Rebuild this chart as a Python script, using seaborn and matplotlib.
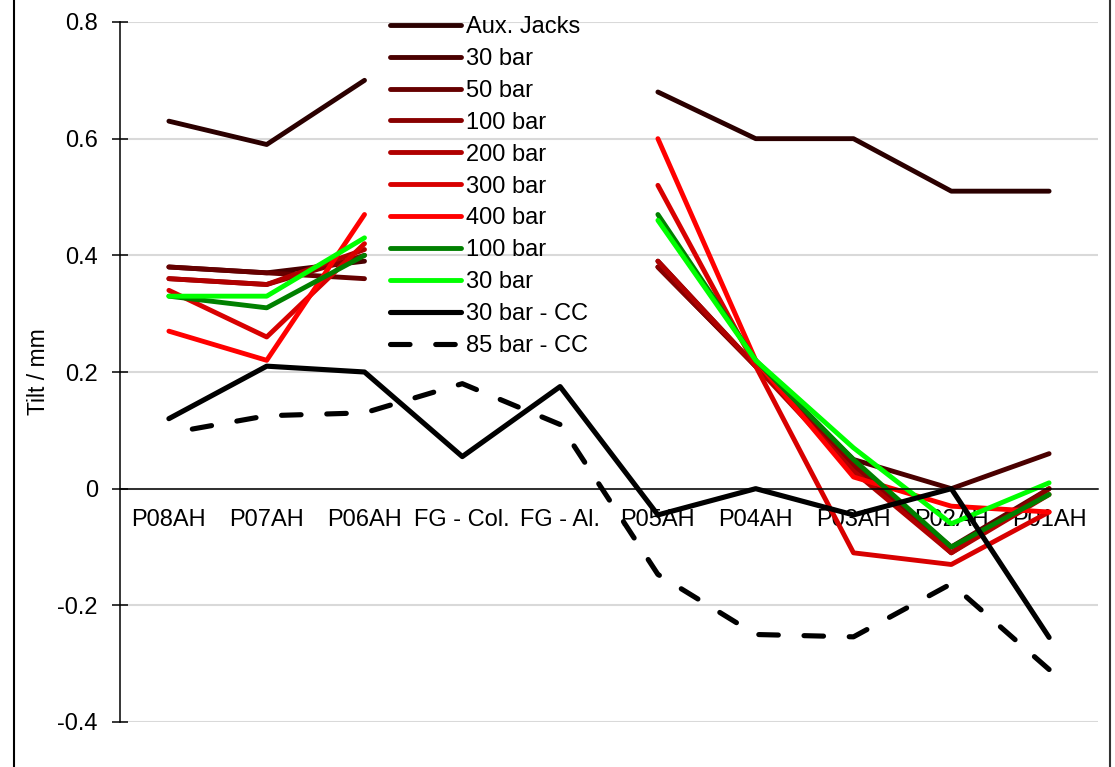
import numpy as np
import pandas as pd
import matplotlib
matplotlib.use("Agg")
import matplotlib.pyplot as plt
from matplotlib.lines import Line2D
from matplotlib.ticker import FixedLocator, MultipleLocator
import seaborn as sns

sns.set_style("white")
plt.rcParams["font.family"] = ["Liberation Sans", "DejaVu Sans"]
plt.rcParams.update({"text.color": "black", "axes.labelcolor": "black",
                     "xtick.color": "black", "ytick.color": "black"})

nan = np.nan

# Measuring stations along the structure (x axis categories)
stations = ["P08AH", "P07AH", "P06AH", "FG - Col.", "FG - Al.",
            "P05AH", "P04AH", "P03AH", "P02AH", "P01AH"]

# Tilt readings in mm per load case
aux_jacks = [0.63, 0.59, 0.70, nan, nan, 0.68, 0.60, 0.60, 0.51, 0.51]
bar_30 = [0.38, 0.37, 0.39, nan, nan, 0.39, 0.21, 0.05, 0.00, 0.06]
bar_50 = [0.38, 0.37, 0.36, nan, nan, 0.38, 0.21, 0.04, -0.10, 0.00]
bar_100 = [0.36, 0.35, 0.40, nan, nan, 0.38, 0.21, 0.04, -0.11, 0.00]
bar_200 = [0.36, 0.35, 0.41, nan, nan, 0.39, 0.21, 0.03, -0.11, -0.01]
bar_300 = [0.34, 0.26, 0.42, nan, nan, 0.52, 0.21, -0.11, -0.13, -0.04]
bar_400 = [0.27, 0.22, 0.47, nan, nan, 0.60, 0.22, 0.02, -0.03, -0.04]
unload_100 = [0.33, 0.31, 0.40, nan, nan, 0.47, 0.22, 0.05, -0.10, -0.01]
unload_30 = [0.33, 0.33, 0.43, nan, nan, 0.46, 0.22, 0.07, -0.06, 0.01]
cc_30 = [0.12, 0.21, 0.20, 0.055, 0.175, -0.045, 0.00, -0.045, 0.00, -0.255]
cc_85 = [0.095, 0.125, 0.13, 0.18, 0.11, -0.147, -0.25, -0.254, -0.163, -0.31]

labels = ["Aux. Jacks", "30 bar", "50 bar", "100 bar", "200 bar", "300 bar",
          "400 bar", "100 bar", "30 bar", "30 bar - CC", "85 bar - CC"]
values = [aux_jacks, bar_30, bar_50, bar_100, bar_200, bar_300,
          bar_400, unload_100, unload_30, cc_30, cc_85]
colors = ["#2b0000", "#4a0000", "#660000", "#880000", "#b00000", "#d80000",
          "#ff0000", "#008000", "#00ff00", "#000000", "#000000"]
dashed = [False] * 10 + [True]

fig = plt.figure(figsize=(11.15, 7.67), dpi=100)
ax = fig.add_axes([120 / 1115, 1 - 722 / 767, 978 / 1115, 700 / 767])

dash_pat = (0, (3.8, 5.0))
handles = []
for lab, vals, col, dsh in zip(labels, values, colors, dashed):
    df = pd.DataFrame({"pos": np.arange(len(stations)), "tilt": vals})
    # split into contiguous runs so missing stations leave a gap
    run_id = df["tilt"].isna().cumsum()
    lw = 3.7 if col == "#000000" else 3.5
    style = dict(color=col, lw=lw, solid_capstyle="round",
                 solid_joinstyle="round", dash_capstyle="round")
    if dsh:
        style["linestyle"] = dash_pat
    ok = df["tilt"].notna()
    for _, seg in df[ok].groupby(run_id[ok]):
        if dsh:
            # trace the dashed path from its right end
            seg = seg.iloc[::-1]
        sns.lineplot(data=seg, x="pos", y="tilt", ax=ax, legend=False,
                     estimator=None, sort=False, **style)
    handles.append(Line2D([], [], label=lab, **style))

ax.set_xlim(-0.5, len(stations) - 0.5)
ax.set_ylim(-0.4, 0.8)
ax.yaxis.set_major_locator(MultipleLocator(0.2))
ax.set_yticklabels([f"{t:g}" if abs(t) > 1e-9 else "0"
                    for t in ax.get_yticks()])

ax.set_xticks(np.arange(len(stations)))
ax.set_xticklabels(stations)
ax.xaxis.set_minor_locator(FixedLocator(np.arange(len(stations) + 1) - 0.5))
ax.tick_params(axis="x", which="major", length=0, pad=15, labelsize=17)
ax.tick_params(axis="x", which="minor", direction="inout", length=12,
               width=1.1, color="black")
ax.tick_params(axis="y", which="major", direction="inout", length=12,
               width=1.1, color="black", labelsize=17, pad=10, left=True)

ax.set_ylabel("Tilt / mm", fontsize=16.5, labelpad=5)
ax.set_xlabel("")

ax.yaxis.grid(True, color="#d9d9d9", lw=1.5)
ax.set_axisbelow(True)
for side in ["top", "right"]:
    ax.spines[side].set_visible(False)
ax.spines["bottom"].set_position(("data", 0))
ax.spines["left"].set_color("black")
ax.spines["bottom"].set_color("black")
ax.spines["left"].set_linewidth(1.1)
ax.spines["bottom"].set_linewidth(1.1)

fig.legend(handles=handles, loc="upper left",
           bbox_to_anchor=(390 / 1115, 1 - 16 / 767),
           frameon=False, fontsize=17, borderpad=0, borderaxespad=0,
           handlelength=3.0, handletextpad=0.2, labelspacing=0.42)

# outer chart border
fig.add_artist(Line2D([14 / 1115, 14 / 1115], [0, 1], color="black", lw=1.5,
                      transform=fig.transFigure))
fig.add_artist(Line2D([1110 / 1115, 1110 / 1115], [0, 1], color="#333333",
                      lw=1.5, transform=fig.transFigure))

fig.savefig("out.png", dpi=100)
